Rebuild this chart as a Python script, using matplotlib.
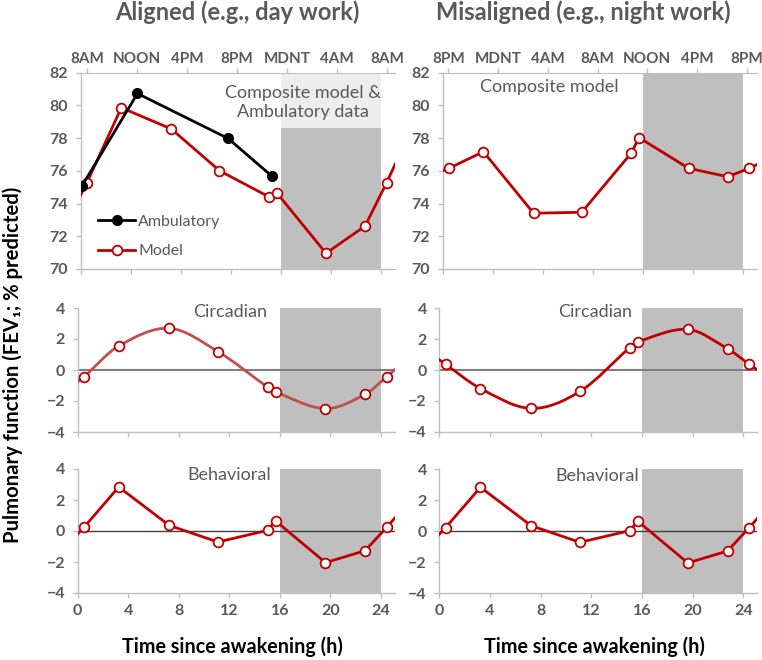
import numpy as np
import matplotlib
matplotlib.use('Agg')
import matplotlib.pyplot as plt
from matplotlib.path import Path
from matplotlib.patches import PathPatch

plt.rcParams['font.family'] = ['Lato', 'DejaVu Sans']

# hours since awakening of the model samples (same in both conditions)
hours = [0.5, 3.25, 7.25, 11.1, 15.03, 15.67, 19.62, 22.75, 24.47]
model_aligned = [75.28, 79.86, 78.56, 76.01, 74.42, 74.67, 70.96, 72.63, 75.28]
model_misaligned = [76.16, 77.17, 73.41, 73.47, 77.07, 78.03, 76.16, 75.64, 76.16]
circ_aligned = [-0.43, 1.55, 2.69, 1.19, -1.10, -1.42, -2.49, -1.57, -0.43]
circ_misaligned = [0.37, -1.20, -2.49, -1.39, 1.45, 1.83, 2.63, 1.38, 0.37]
behavioral = [0.24, 2.84, 0.36, -0.71, 0.04, 0.65, -2.04, -1.27, 0.24]

amb_hours = [0.08, 4.54, 11.79, 15.3]
amb_fev = [75.05, 80.73, 77.98, 75.67]

clock_aligned = ['8AM', 'NOON', '4PM', '8PM', 'MDNT', '4AM', '8AM']
clock_misaligned = ['8PM', 'MDNT', '4AM', '8AM', 'NOON', '4PM', '8PM']

RED = '#c00000'
RED_SOFT = '#c0504d'
GREY_TXT = '#595959'
GREY_AX = '#bfbfbf'
SHADE = '#bfbfbf'
W, H = 762, 660


def wrap(t, y):
    # repeat the neighbouring samples one day earlier / later so lines run off the edges
    t = list(t)
    y = list(y)
    return [t[-2] - 24] + t + [t[1] + 24], [y[-2]] + y + [y[1]]


def smooth_path(x, y):
    x = np.asarray(x, float)
    y = np.asarray(y, float)
    n = len(x)
    m = np.zeros(n)
    m[1:-1] = (y[2:] - y[:-2]) / (x[2:] - x[:-2])
    m[0] = (y[1] - y[0]) / (x[1] - x[0])
    m[-1] = (y[-1] - y[-2]) / (x[-1] - x[-2])
    verts = [(x[0], y[0])]
    codes = [Path.MOVETO]
    for i in range(n - 1):
        h = x[i + 1] - x[i]
        verts += [(x[i] + h / 3, y[i] + m[i] * h / 3),
                  (x[i + 1] - h / 3, y[i + 1] - m[i + 1] * h / 3),
                  (x[i + 1], y[i + 1])]
        codes += [Path.CURVE4] * 3
    return Path(verts, codes)


def make_ax(fig, x0, x1, y0, y1):
    return fig.add_axes([x0 / W, 1 - y1 / H, (x1 - x0) / W, (y1 - y0) / H])


def style(ax, ylim, yticks, xlabels):
    ax.set_xlim(0, 25.1)
    ax.set_ylim(*ylim)
    ax.set_yticks(yticks)
    ax.set_xticks(range(0, 25, 4))
    for s in ['top', 'right']:
        ax.spines[s].set_visible(False)
    for s in ['left', 'bottom']:
        ax.spines[s].set_color(GREY_AX)
        ax.spines[s].set_linewidth(1.0)
    ax.tick_params(colors=GREY_AX, labelcolor=GREY_TXT, length=3.5, width=1,
                   labelsize=11.5)
    ax.tick_params(axis='y', pad=5.5)
    ax.tick_params(axis='x', pad=4.5)
    for lbl in ax.get_yticklabels() + ax.get_xticklabels():
        lbl.set_fontweight('bold')
    if not xlabels:
        ax.tick_params(axis='x', labelbottom=False)


def top_clock(ax, labels, start, step):
    sec = ax.secondary_xaxis('top')
    sec.set_xticks([start + step * k for k in range(len(labels))])
    sec.set_xticklabels(labels, fontweight='bold')
    sec.spines['top'].set_color(GREY_AX)
    sec.tick_params(colors=GREY_AX, labelcolor=GREY_TXT, length=3.5, width=1,
                    labelsize=11, pad=1.5)


def model_line(ax, t, y, smooth=False, color=RED):
    tt, yy = wrap(t, y)
    if smooth:
        ax.add_patch(PathPatch(smooth_path(tt, yy), facecolor='none',
                               edgecolor=color, lw=2.0, zorder=3))
        ax.plot(t, y, ls='none', marker='o', ms=7, mfc='white', mec=RED,
                mew=1.3, zorder=4)
        return None
    ln, = ax.plot(tt, yy, color=color, lw=2.0, marker='o', ms=7, mfc='white',
                  mec=RED, mew=1.3, zorder=4, label='Model')
    return ln


fig = plt.figure(figsize=(W / 100, H / 100), dpi=100)

# top row: composite model
ax_tl = make_ax(fig, 80.7, 394.5, 72.7, 269)
ax_tr = make_ax(fig, 442.7, 757.2, 72.7, 269)
# middle row: circadian
ax_ml = make_ax(fig, 77.7, 394.7, 308, 432)
ax_mr = make_ax(fig, 439.3, 757.3, 308.3, 431.7)
# bottom row: behavioral
ax_bl = make_ax(fig, 77.7, 394.7, 469, 593)
ax_br = make_ax(fig, 439.3, 757.3, 469.3, 593.3)

for ax in [ax_tl, ax_tr]:
    style(ax, (70, 82), range(70, 83, 2), False)
for ax in [ax_ml, ax_mr, ax_bl, ax_br]:
    style(ax, (-4, 4), range(-4, 5, 2), ax in [ax_bl, ax_br])

# sleep episodes
ax_tl.axvspan(16, 24, ymax=0.717, color=SHADE, lw=0, zorder=0)
ax_tl.axvspan(16, 24, ymin=0.717, color='#ededed', lw=0, zorder=0)
for ax in [ax_tr, ax_ml, ax_mr, ax_bl, ax_br]:
    ax.axvspan(16, 24, color=SHADE, lw=0, zorder=0)

for ax in [ax_ml, ax_mr]:
    ax.axhline(0, color='#7f7f7f', lw=1.5, zorder=1)
for ax in [ax_bl, ax_br]:
    ax.axhline(0, color='#404040', lw=1.0, zorder=1)

top_clock(ax_tl, clock_aligned, 0.5, 4.0)
top_clock(ax_tr, clock_misaligned, 0.45, 3.97)

ln_model = model_line(ax_tl, hours, model_aligned)
ln_amb, = ax_tl.plot(amb_hours, amb_fev, color='black', lw=2.0, marker='o', ms=7,
                     zorder=5, label='Ambulatory')
model_line(ax_tr, hours, model_misaligned)
model_line(ax_ml, hours, circ_aligned, smooth=True, color=RED_SOFT)
model_line(ax_mr, hours, circ_misaligned, smooth=True, color=RED)
model_line(ax_bl, hours, behavioral)
model_line(ax_br, hours, behavioral)

leg = ax_tl.legend(handles=[ln_amb, ln_model], loc='center left',
                   bbox_to_anchor=(0.056, 0.165), frameon=False, fontsize=11.5,
                   handlelength=2.3, handletextpad=0.2, labelspacing=0.95,
                   borderpad=0, borderaxespad=0)
for txt in leg.get_texts():
    txt.set_color(GREY_TXT)

lab = dict(color=GREY_TXT, fontsize=13, ha='center', va='center', zorder=6)
ax_tl.text(17.75, 80.16, 'Composite model &\nAmbulatory data', linespacing=1.2, **lab)
ax_tr.text(8.5, 81.14, 'Composite model', **lab)
ax_ml.text(12.1, 3.75, 'Circadian', **lab)
ax_mr.text(12.3, 3.75, 'Circadian', **lab)
ax_bl.text(12.0, 3.6, 'Behavioral', **lab)
ax_br.text(12.45, 3.55, 'Behavioral', **lab)

fig.text(237 / W, 1 - 12 / H, 'Aligned (e.g., day work)', ha='center', va='center',
         fontsize=17, fontweight='bold', color=GREY_TXT)
fig.text(583 / W, 1 - 12 / H, 'Misaligned (e.g., night work)', ha='center', va='center',
         fontsize=17, fontweight='bold', color=GREY_TXT)
fig.text(232 / W, 1 - 647 / H, 'Time since awakening (h)', ha='center', va='center',
         fontsize=14.2, fontweight='bold', color='black')
fig.text(594 / W, 1 - 647 / H, 'Time since awakening (h)', ha='center', va='center',
         fontsize=14.2, fontweight='bold', color='black')
fig.text(13 / W, 1 - 365 / H, 'Pulmonary function (FEV\u2081; % predicted)', rotation=90,
         ha='center', va='center', fontsize=14.6, fontweight='bold', color='black')

fig.savefig('out.png', dpi=100)
